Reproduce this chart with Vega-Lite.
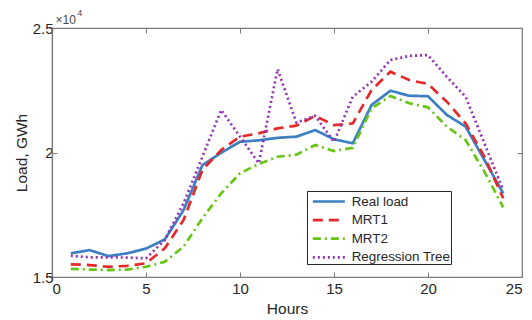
{
  "$schema": "https://vega.github.io/schema/vega-lite/v6.json",
  "autosize": {"type": "none"},
  "padding": {"left": 52, "top": 28, "right": 10, "bottom": 43},
  "width": 470,
  "height": 249,
  "config": {
    "font": "Liberation Sans",
    "view": {"stroke": "#7a7a7a", "strokeWidth": 1.2},
    "axis": {"grid": false, "domainColor": "#7a7a7a", "tickColor": "#7a7a7a", "labelColor": "#262626", "titleColor": "#262626", "labelFont": "Liberation Sans", "titleFont": "Liberation Sans", "labelFontSize": 15, "titleFontSize": 15.5, "titleFontWeight": "normal", "tickSize": -5, "domainWidth": 1.2}
  },
  "data": {"values": [
    {"hour": 1, "series": "Real load", "load": 15950},
    {"hour": 2, "series": "Real load", "load": 16080},
    {"hour": 3, "series": "Real load", "load": 15840},
    {"hour": 4, "series": "Real load", "load": 15950},
    {"hour": 5, "series": "Real load", "load": 16140},
    {"hour": 6, "series": "Real load", "load": 16510},
    {"hour": 7, "series": "Real load", "load": 17690},
    {"hour": 8, "series": "Real load", "load": 19490},
    {"hour": 9, "series": "Real load", "load": 19990},
    {"hour": 10, "series": "Real load", "load": 20430},
    {"hour": 11, "series": "Real load", "load": 20490},
    {"hour": 12, "series": "Real load", "load": 20590},
    {"hour": 13, "series": "Real load", "load": 20635},
    {"hour": 14, "series": "Real load", "load": 20900},
    {"hour": 15, "series": "Real load", "load": 20530},
    {"hour": 16, "series": "Real load", "load": 20370},
    {"hour": 17, "series": "Real load", "load": 21910},
    {"hour": 18, "series": "Real load", "load": 22480},
    {"hour": 19, "series": "Real load", "load": 22280},
    {"hour": 20, "series": "Real load", "load": 22260},
    {"hour": 21, "series": "Real load", "load": 21510},
    {"hour": 22, "series": "Real load", "load": 21040},
    {"hour": 23, "series": "Real load", "load": 19700},
    {"hour": 24, "series": "Real load", "load": 18360},
    {"hour": 1, "series": "MRT1", "load": 15510},
    {"hour": 2, "series": "MRT1", "load": 15480},
    {"hour": 3, "series": "MRT1", "load": 15410},
    {"hour": 4, "series": "MRT1", "load": 15450},
    {"hour": 5, "series": "MRT1", "load": 15550},
    {"hour": 6, "series": "MRT1", "load": 16150},
    {"hour": 7, "series": "MRT1", "load": 17290},
    {"hour": 8, "series": "MRT1", "load": 19300},
    {"hour": 9, "series": "MRT1", "load": 20100},
    {"hour": 10, "series": "MRT1", "load": 20635},
    {"hour": 11, "series": "MRT1", "load": 20770},
    {"hour": 12, "series": "MRT1", "load": 20970},
    {"hour": 13, "series": "MRT1", "load": 21080},
    {"hour": 14, "series": "MRT1", "load": 21470},
    {"hour": 15, "series": "MRT1", "load": 21100},
    {"hour": 16, "series": "MRT1", "load": 21170},
    {"hour": 17, "series": "MRT1", "load": 22510},
    {"hour": 18, "series": "MRT1", "load": 23245},
    {"hour": 19, "series": "MRT1", "load": 22910},
    {"hour": 20, "series": "MRT1", "load": 22750},
    {"hour": 21, "series": "MRT1", "load": 22040},
    {"hour": 22, "series": "MRT1", "load": 21170},
    {"hour": 23, "series": "MRT1", "load": 19830},
    {"hour": 24, "series": "MRT1", "load": 18160},
    {"hour": 1, "series": "MRT2", "load": 15330},
    {"hour": 2, "series": "MRT2", "load": 15300},
    {"hour": 3, "series": "MRT2", "load": 15280},
    {"hour": 4, "series": "MRT2", "load": 15300},
    {"hour": 5, "series": "MRT2", "load": 15410},
    {"hour": 6, "series": "MRT2", "load": 15610},
    {"hour": 7, "series": "MRT2", "load": 16220},
    {"hour": 8, "series": "MRT2", "load": 17360},
    {"hour": 9, "series": "MRT2", "load": 18360},
    {"hour": 10, "series": "MRT2", "load": 19165},
    {"hour": 11, "series": "MRT2", "load": 19540},
    {"hour": 12, "series": "MRT2", "load": 19830},
    {"hour": 13, "series": "MRT2", "load": 19910},
    {"hour": 14, "series": "MRT2", "load": 20300},
    {"hour": 15, "series": "MRT2", "load": 20060},
    {"hour": 16, "series": "MRT2", "load": 20190},
    {"hour": 17, "series": "MRT2", "load": 21775},
    {"hour": 18, "series": "MRT2", "load": 22270},
    {"hour": 19, "series": "MRT2", "load": 21980},
    {"hour": 20, "series": "MRT2", "load": 21815},
    {"hour": 21, "series": "MRT2", "load": 21040},
    {"hour": 22, "series": "MRT2", "load": 20500},
    {"hour": 23, "series": "MRT2", "load": 19230},
    {"hour": 24, "series": "MRT2", "load": 17800},
    {"hour": 1, "series": "Regression Tree", "load": 15855},
    {"hour": 2, "series": "Regression Tree", "load": 15790},
    {"hour": 3, "series": "Regression Tree", "load": 15790},
    {"hour": 4, "series": "Regression Tree", "load": 15780},
    {"hour": 5, "series": "Regression Tree", "load": 15750},
    {"hour": 6, "series": "Regression Tree", "load": 16490},
    {"hour": 7, "series": "Regression Tree", "load": 17960},
    {"hour": 8, "series": "Regression Tree", "load": 19830},
    {"hour": 9, "series": "Regression Tree", "load": 21710},
    {"hour": 10, "series": "Regression Tree", "load": 20635},
    {"hour": 11, "series": "Regression Tree", "load": 19570},
    {"hour": 12, "series": "Regression Tree", "load": 23350},
    {"hour": 13, "series": "Regression Tree", "load": 21200},
    {"hour": 14, "series": "Regression Tree", "load": 21470},
    {"hour": 15, "series": "Regression Tree", "load": 20430},
    {"hour": 16, "series": "Regression Tree", "load": 22240},
    {"hour": 17, "series": "Regression Tree", "load": 22845},
    {"hour": 18, "series": "Regression Tree", "load": 23715},
    {"hour": 19, "series": "Regression Tree", "load": 23876},
    {"hour": 20, "series": "Regression Tree", "load": 23916},
    {"hour": 21, "series": "Regression Tree", "load": 23040},
    {"hour": 22, "series": "Regression Tree", "load": 22240},
    {"hour": 23, "series": "Regression Tree", "load": 20370},
    {"hour": 24, "series": "Regression Tree", "load": 18490}
  ]},
  "layer": [
    {
      "mark": {"type": "line", "strokeWidth": 2.7, "clip": true},
      "encoding": {
        "x": {"field": "hour", "type": "quantitative", "scale": {"domain": [0, 25], "nice": false, "zero": false},
              "axis": {"orient": "bottom", "title": "Hours", "values": [0, 5, 10, 15, 20, 25], "labelPadding": 9, "titlePadding": 5}},
        "y": {"field": "load", "type": "quantitative", "scale": {"domain": [15000, 25000], "nice": false, "zero": false},
              "axis": {"orient": "left", "title": "Load, GWh", "values": [15000, 20000, 25000], "labelExpr": "'' + datum.value / 10000", "labelPadding": 4, "titlePadding": 3}},
        "color": {"field": "series", "type": "nominal",
                  "scale": {"domain": ["Real load", "MRT1", "MRT2", "Regression Tree"], "range": ["#3c7fc2", "#e5292a", "#66c514", "#9232b4"]},
                  "legend": {"title": null, "orient": "none", "legendX": 255, "legendY": 163, "strokeColor": "#262626", "fillColor": "white", "padding": 0, "labelFontSize": 13.4, "labelColor": "#262626", "symbolType": "M-0.54,0H3.16", "symbolSize": 300, "symbolStrokeWidth": 2.7, "symbolFillColor": "transparent", "rowPadding": 1.6, "labelOffset": 23.7, "offset": 0}},
        "strokeDash": {"field": "series", "type": "nominal",
                       "scale": {"domain": ["Real load", "MRT1", "MRT2", "Regression Tree"], "range": [[1, 0], [10, 6], [8, 4, 2, 4], [2, 3]]},
                       "legend": null}
      }
    },
    {
      "mark": {"type": "point", "opacity": 0},
      "encoding": {
        "x": {"field": "hour", "type": "quantitative", "axis": {"orient": "top", "title": "×10", "titleFontSize": 12, "titleColor": "#4a4a4a", "titleAlign": "left", "titleAnchor": null, "titleBaseline": "alphabetic", "titleX": 3, "titleY": -4.7, "labels": false, "domain": false, "values": [0, 5, 10, 15, 20, 25]}},
        "y": {"field": "load", "type": "quantitative", "axis": {"orient": "right", "title": "4", "titleFontSize": 9, "titleColor": "#4a4a4a", "titleAngle": 0, "titleAlign": "left", "titleAnchor": null, "titleBaseline": "alphabetic", "titleX": -445.3, "titleY": -13, "labels": false, "domain": false, "values": [15000, 20000, 25000]}}
      }
    }
  ],
  "resolve": {"axis": {"x": "independent", "y": "independent"}}
}
